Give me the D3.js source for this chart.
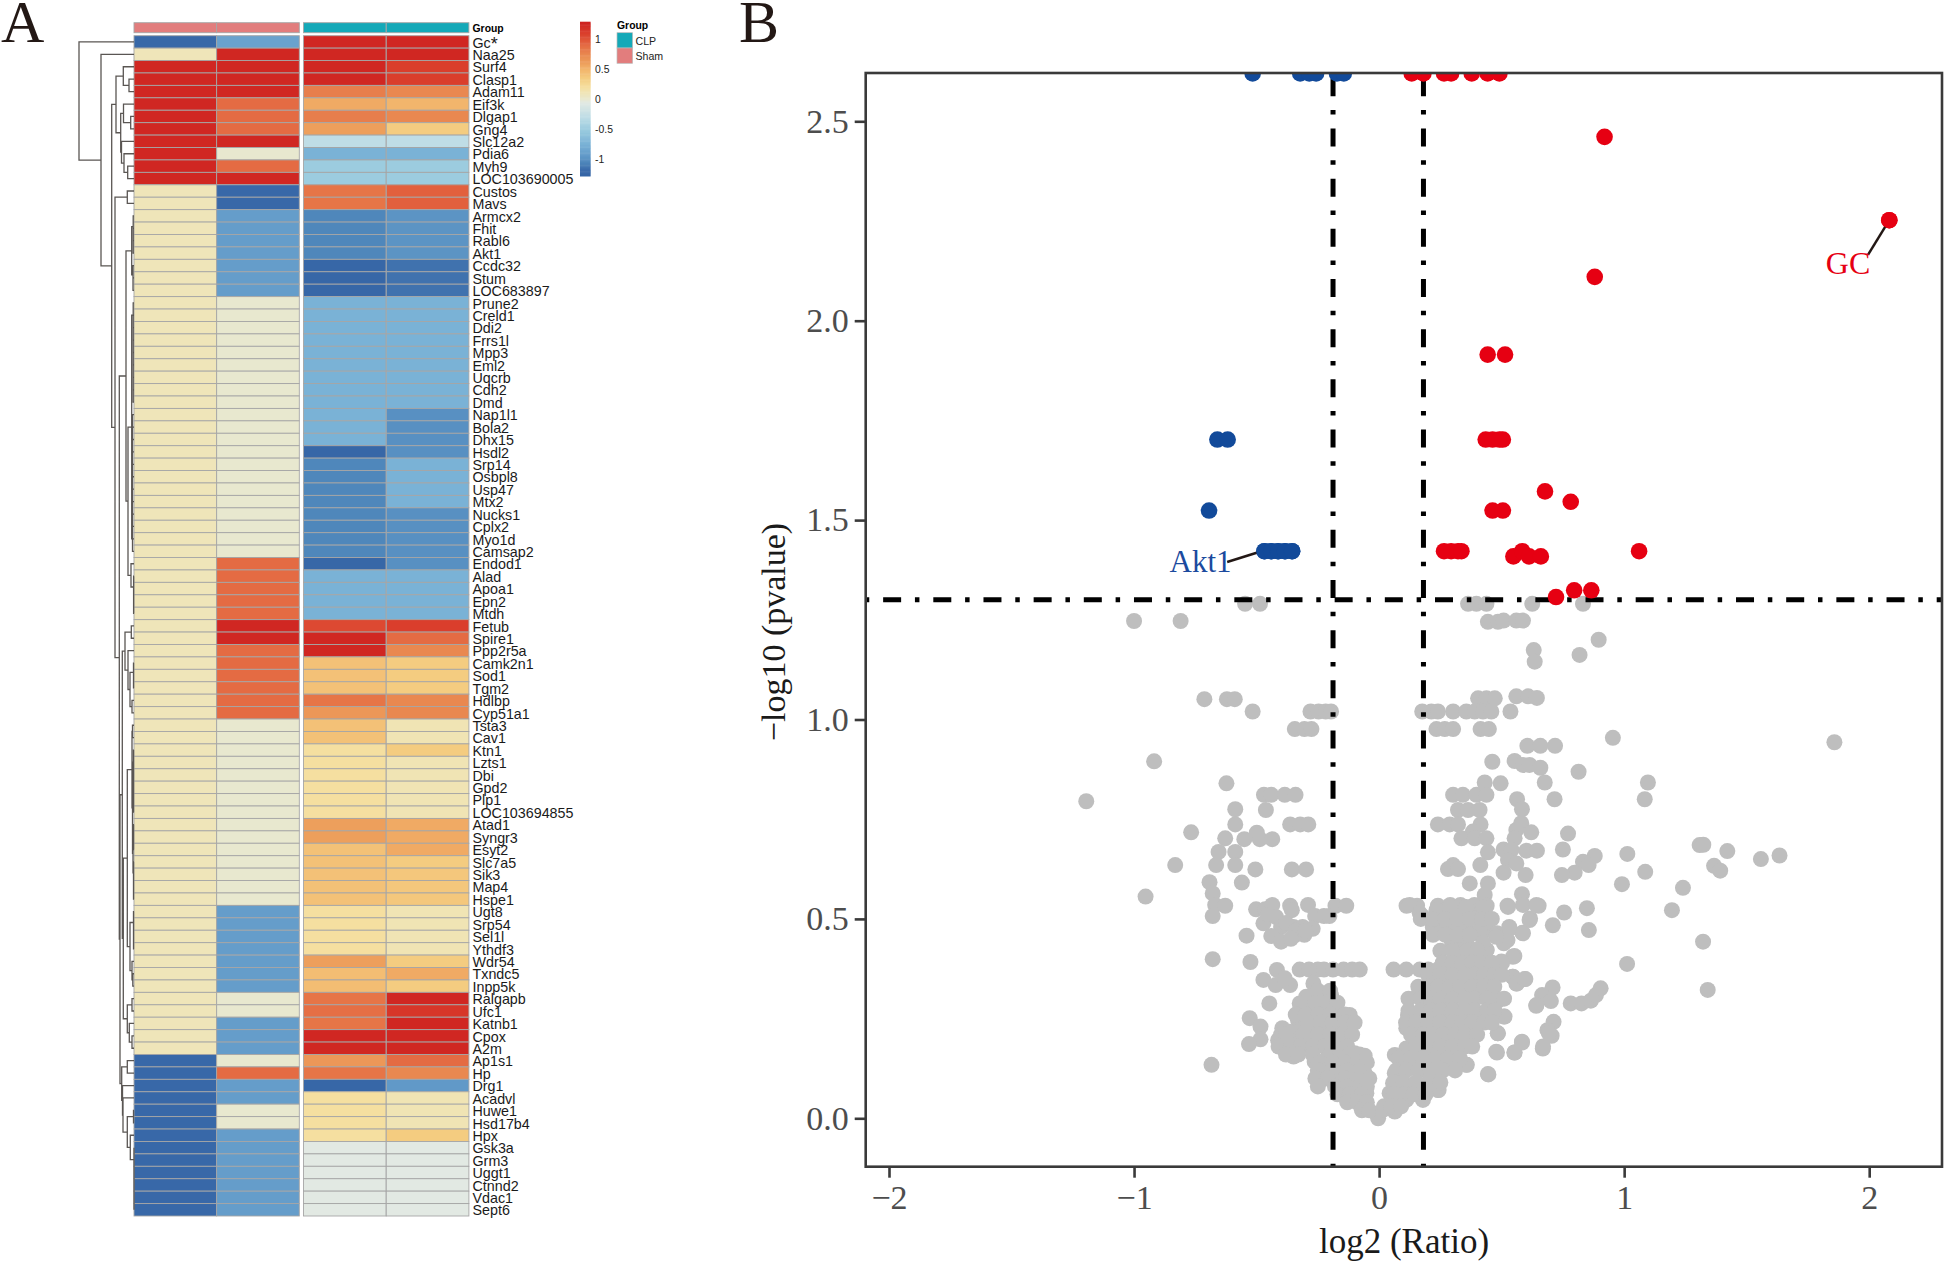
<!DOCTYPE html>
<html><head><meta charset="utf-8">
<script src="https://cdn.jsdelivr.net/npm/d3@7/dist/d3.min.js"></script>
<style>html,body{margin:0;padding:0;background:#fff}svg{display:block}</style>
</head><body><svg id="c" width="1944" height="1263"></svg>
<script>
// ---------- Heatmap data ----------
const genes = ["Gc","Naa25","Surf4","Clasp1","Adam11","Eif3k","Dlgap1","Gng4","Slc12a2","Pdia6","Myh9","LOC103690005","Custos","Mavs","Armcx2","Fhit","Rabl6","Akt1","Ccdc32","Stum","LOC683897","Prune2","Creld1","Ddi2","Frrs1l","Mpp3","Eml2","Uqcrb","Cdh2","Dmd","Nap1l1","Bola2","Dhx15","Hsdl2","Srp14","Osbpl8","Usp47","Mtx2","Nucks1","Cplx2","Myo1d","Camsap2","Endod1","Alad","Apoa1","Epn2","Mtdh","Fetub","Spire1","Ppp2r5a","Camk2n1","Sod1","Tgm2","Hdlbp","Cyp51a1","Tsta3","Cav1","Ktn1","Lzts1","Dbi","Gpd2","Plp1","LOC103694855","Atad1","Syngr3","Esyt2","Slc7a5","Sik3","Map4","Hspe1","Ugt8","Srp54","Sel1l","Ythdf3","Wdr54","Txndc5","Inpp5k","Ralgapb","Ufc1","Katnb1","Cpox","A2m","Ap1s1","Hp","Drg1","Acadvl","Huwe1","Hsd17b4","Hpx","Gsk3a","Grm3","Uggt1","Ctnnd2","Vdac1","Sept6"];
const sham1 = [-1.2,.1,1.25,1.25,1.25,1.25,1.25,1.25,1.25,1.25,1.25,1.25,.1,.1,.1,.1,.1,.1,.1,.1,.1,.1,.1,.1,.1,.1,.1,.1,.1,.1,.1,.1,.1,.1,.1,.1,.1,.1,.1,.1,.1,.1,.1,.1,.1,.1,.1,.1,.1,.1,.1,.1,.1,.1,.1,.1,.1,.1,.1,.1,.1,.1,.1,.1,.1,.1,.1,.1,.1,.1,.1,.1,.1,.1,.1,.1,.1,.1,.1,.1,.1,.1,-1.2,-1.2,-1.2,-1.2,-1.2,-1.2,-1.2,-1.2,-1.2,-1.2,-1.2,-1.2,-1.2];
const sham2 = [-.88,1.25,1.25,1.25,1.25,.9,.9,.9,1.25,0,.9,1.25,-1.2,-1.2,-.92,-.92,-.92,-.92,-.92,-.92,-.92,0,0,0,0,0,0,0,0,0,0,0,0,0,0,0,0,0,0,0,0,0,.9,.9,.9,.9,.9,1.25,1.25,.9,.9,.9,.9,.9,.9,0,0,0,0,0,0,0,0,0,0,0,0,0,0,0,-.92,-.92,-.92,-.92,-.92,-.92,-.92,0,0,-.92,-.92,-.92,0,.9,-.92,-.92,0,0,-.92,-.92,-.92,-.92,-.92,-.92,-.92];
const clp1 = [1.25,1.25,1.25,1.25,.8,.55,.8,.6,-.3,-.75,-.5,-.5,.85,.85,-1.05,-1.05,-1.05,-1.05,-1.22,-1.22,-1.22,-.75,-.75,-.75,-.75,-.75,-.75,-.75,-.75,-.75,-.75,-.75,-.75,-1.22,-1.05,-1.05,-1.05,-1.05,-1.05,-1.05,-1.05,-1.05,-1.22,-.75,-.75,-.75,-.75,1.05,1.25,1.25,.42,.42,.42,.85,.65,.42,.42,.2,.2,.2,.2,.2,.2,.6,.6,.42,.42,.42,.42,.42,.2,.2,.2,.2,.6,.45,.45,.85,.88,.85,1.25,1.25,.65,.85,-1.22,.2,.2,.2,.2,-.05,-.05,-.05,-.05,-.05,-.05];
const clp2 = [1.25,1.25,1.1,1.1,.75,.5,.75,.35,-.3,-.75,-.5,-.5,.95,.95,-.98,-.98,-.98,-.98,-1.15,-1.15,-1.15,-.75,-.75,-.75,-.75,-.75,-.75,-.75,-.75,-.75,-1,-1,-1,-1,-.75,-.75,-.75,-.75,-1,-1,-1,-1,-1,-.75,-.75,-.75,-.75,1.1,.9,.75,.35,.35,.35,.75,.75,.12,.12,.35,.12,.12,.12,.12,.12,.55,.55,.55,.35,.38,.38,.38,.12,.12,.12,.12,.35,.55,.35,1.25,1.15,1.25,1.25,1.25,.9,.75,-.95,.12,.12,.12,.35,-.05,-.05,-.05,-.05,-.05,-.05];
const sampleCols = ["Sham1","Sham2","CLP1","CLP2"];
const colorDomain = [-1.3,-1.2,-1.05,-.95,-.75,-.5,-.3,-.05,0,.1,.2,.35,.5,.6,.75,.9,1.1,1.3];
const colorRange = ["#3565a5","#3868a8","#4f87bb","#6199c8","#7ab2d6","#9cccdf","#bfdde6","#e2e9e3","#e8e8cf","#efe5b9","#f5dfa0","#f4cc80","#f2b56c","#ed9f5c","#e98850","#e46b43","#da3e2c","#cc1f1f"];
const legendTicks = [1,.5,0,-.5,-1];
const groupNames = ["CLP","Sham"];
const groupColors = ["#14a9b8","#e27d7d"];

// dendrogram: [merge height, child, child]; 0 = single gene; run(n,h) = tied genes
const run = (n,h) => n===1 ? 0 : [h,0,run(n-1,h)];
const runL = (n,h) => n===1 ? 0 : [h,runL(n-1,h),0];
const rowTree = [55,0,[33,0,[22.3,
  [18,[10.7,0,[5,0,0]],[13.3,[10.5,0,[3.3,0,0]],[12.5,0,[10,0,[6.3,0,0]]]]],
  [19,[6.7,0,0],[14.7,
    [8,[2.3,run(4,.8),run(3,1)],
       [6,[2.3,run(9,.8),runL(12,1.5)],[3,0,run(4,.4)]]],
    [14,
      [11.7,
        [9,[2.7,0,0],[6,0,[4,run(3,.5),[2,0,0]]]],
        [10.7,
          [6.7,[2,[1.5,0,0],[1.5,run(6,.5),[1,run(3,.5),run(4,.5)]]],[4,run(4,.5),[2,0,[1.2,0,0]]]],
          [6.7,[2,0,0],[4.7,0,[2,0,0]]]]],
      [12.3,[6.7,0,0],[11.5,0,[11,0,[6.7,[.5,0,0],[3.7,0,run(6,0)]]]]]]]]]]];

// ---------- Volcano data: [log2 ratio, -log10 p] ----------
const vLines = [-.188,.181], hLine = 1.3;
const xTicks = [-2,-1,0,1,2], yTicks = [0,.5,1,1.5,2,2.5];
const upPoints = [[.133,2.62],[.181,2.62],[.265,2.62],[.294,2.62],[.378,2.62],[.443,2.62],[.491,2.62],[.92,2.461],[2.082,2.252],[.88,2.11],[.443,1.915],[.514,1.915],[.435,1.702],[.463,1.702],[.491,1.702],[.505,1.702],[.677,1.572],[.782,1.546],[.463,1.524],[.505,1.524],[.265,1.422],[.294,1.422],[.322,1.422],[.336,1.422],[.548,1.409],[.584,1.422],[.612,1.409],[.66,1.409],[1.061,1.422],[.722,1.307],[.796,1.324],[.866,1.324]];
const downPoints = [[-.516,2.62],[-.322,2.62],[-.285,2.62],[-.257,2.62],[-.172,2.62],[-.144,2.62],[-.66,1.702],[-.618,1.702],[-.694,1.524],[-.468,1.422],[-.44,1.422],[-.412,1.422],[-.384,1.422],[-.355,1.422]];
const greyLeft = [[-.547,1.29],[-.486,1.29],[-1,1.247],[-.81,1.247],[-.713,1.051],[-.621,1.051],[-.589,1.051],[-.516,1.02],[-.28,1.02],[-.247,1.02],[-.218,1.02],[-.196,1.02],[-.344,.976],[-.305,.976],[-.276,.976],[-.918,.895],[-1.195,.795],[-.623,.84],[-.47,.811],[-.44,.811],[-.385,.811],[-.341,.811],[-.462,.773],[-.587,.775],[-.587,.737],[-.363,.737],[-.322,.737],[-.289,.737],[-.767,.717],[-.628,.702],[-.55,.7],[-.499,.716],[-.487,.7],[-.436,.7],[-.655,.668],[-.587,.668],[-.832,.635],[-.665,.635],[-.587,.635],[-.505,.624],[-.356,.624],[-.298,.624],[-.692,.592],[-.56,.591],[-.679,.564],[-.953,.556],[-.669,.535],[-.628,.533],[-.679,.507],[-.502,.524],[-.465,.524],[-.436,.535],[-.363,.533],[-.356,.522],[-.29,.535],[-.178,.533],[-.134,.533],[-.261,.507],[-.225,.507],[-.203,.507],[-.472,.489],[-.451,.51],[-.421,.505],[-.4,.48],[-.349,.48],[-.312,.48],[-.271,.475],[-.44,.457],[-.4,.443],[-.341,.46],[-.305,.46],[-.541,.458],[-.679,.399],[-.525,.392],[-.324,.373],[-.286,.373],[-.25,.373],[-.225,.373],[-.188,.373],[-.145,.373],[-.11,.373],[-.079,.373],[-.417,.372],[-.472,.347],[-.422,.334],[-.363,.334],[-.385,.351],[-.268,.338],[-.448,.288],[-.196,.309],[-.324,.288],[-.297,.305],[-.242,.309],[-.202,.309],[-.283,.28],[-.229,.28],[-.331,.246],[-.276,.255],[-.222,.255],[-.168,.259],[-.12,.259],[-.331,.217],[-.27,.226],[-.215,.226],[-.168,.23],[-.12,.23],[-.395,.226],[-.365,.217],[-.412,.196],[-.351,.196],[-.29,.196],[-.236,.192],[-.351,.159],[-.528,.251],[-.484,.23],[-.484,.198],[-.531,.186],[-.4,.21],[-.349,.155],[-.397,.178],[-.684,.134],[-.263,.142],[-.208,.155],[-.147,.175],[-.1,.163],[-.059,.157],[-.236,.096],[-.215,.121],[-.161,.138],[-.106,.138],[-.059,.113],[-.161,.104],[-.106,.104],[-.059,.088],[-.147,.071],[-.106,.054],[-.052,.063],[-.059,.025],[-.079,.038],[-.004,0]];
const greyLeftDense = [[-.25,.32],[-.2,.32],[-.31,.29],[-.26,.29],[-.21,.29],[-.17,.29],[-.34,.26],[-.3,.26],[-.25,.26],[-.2,.26],[-.14,.26],[-.29,.24],[-.24,.24],[-.19,.24],[-.14,.24],[-.1,.24],[-.38,.21],[-.31,.21],[-.25,.21],[-.2,.21],[-.15,.21],[-.11,.21],[-.41,.18],[-.36,.18],[-.32,.18],[-.27,.18],[-.22,.18],[-.17,.18],[-.13,.18],[-.38,.16],[-.33,.16],[-.27,.16],[-.2,.16],[-.16,.16],[-.12,.16],[-.08,.16],[-.24,.14],[-.19,.14],[-.14,.14],[-.09,.14],[-.05,.14],[-.25,.12],[-.19,.12],[-.13,.12],[-.08,.12],[-.26,.1],[-.21,.1],[-.14,.1],[-.08,.1],[-.04,.1],[-.25,.08],[-.18,.08],[-.13,.08],[-.08,.08],[-.05,.08],[-.17,.06],[-.12,.06],[-.07,.06],[-.13,.04],[-.09,.04],[-.05,.04],[-.07,.02],[-.04,.02],[-.38,.49],[-.34,.47],[-.3,.47],[-.36,.45]];
const greyRight = [[.363,1.29],[.397,1.29],[.438,1.29],[.625,1.29],[.832,1.29],[.444,1.245],[.485,1.245],[.508,1.248],[.56,1.248],[.587,1.248],[.896,1.2],[.818,1.162],[.631,1.174],[.635,1.145],[.404,1.053],[.438,1.053],[.472,1.053],[.56,1.058],[.608,1.058],[.644,1.054],[.176,1.02],[.213,1.02],[.24,1.02],[.302,1.02],[.356,1.02],[.39,1.02],[.424,1.02],[.458,1.02],[.536,1.02],[.234,.976],[.268,.976],[.302,.976],[.414,.976],[.448,.976],[.954,.954],[1.858,.943],[.605,.934],[.658,.934],[.718,.934],[.462,.894],[.553,.896],[.587,.886],[.614,.886],[.658,.879],[.814,.869],[.676,.842],[.431,.842],[.496,.84],[1.097,.842],[1.084,.8],[.716,.8],[.302,.811],[.342,.811],[.397,.811],[.438,.811],[.322,.773],[.363,.773],[.41,.773],[.563,.8],[.583,.775],[.24,.737],[.288,.737],[.322,.737],[.414,.737],[.58,.74],[.56,.723],[.621,.717],[.771,.714],[.383,.719],[.336,.702],[.39,.702],[.438,.702],[.553,.702],[.508,.674],[.444,.667],[.601,.671],[.644,.671],[.75,.674],[.54,.673],[.526,.648],[.56,.639],[.88,.658],[.832,.643],[.855,.635],[1.013,.663],[.798,.616],[.746,.61],[1.086,.618],[1.308,.685],[.302,.635],[.281,.625],[.322,.625],[.413,.635],[.508,.616],[.598,.61],[.991,.587],[1.24,.578],[.37,.589],[.444,.589],[.431,.56],[.583,.562],[1.323,.686],[1.421,.67],[1.558,.65],[1.634,.659],[1.367,.633],[1.392,.621],[1.195,.522],[.848,.527],[.755,.516],[.709,.484],[.856,.472],[1.322,.443],[1.012,.387],[1.341,.322],[.651,.533],[.587,.535],[.524,.533],[.616,.501],[.585,.465],[.531,.48],[.524,.447],[.552,.407],[.502,.39],[.46,.372],[.439,.422],[.545,.355],[.562,.338],[.597,.349],[.708,.328],[.665,.309],[.701,.294],[.641,.282],[.782,.288],[.826,.288],[.864,.295],[.885,.309],[.904,.326],[.712,.242],[.687,.221],[.704,.207],[.668,.175],[.583,.192],[.552,.165],[.481,.165],[.484,.213],[.446,.11],[.358,.134],[.243,.071],[.509,.255],[.481,.293],[.375,.213],[.332,.175],[.311,.146],[.112,.533],[.155,.533],[.176,.507],[.219,.48],[.24,.533],[.29,.535],[.332,.535],[.389,.535],[.439,.533],[.226,.505],[.268,.505],[.318,.514],[.368,.514],[.417,.514],[.254,.48],[.297,.464],[.339,.464],[.382,.464],[.439,.472],[.297,.443],[.353,.435],[.389,.422],[.481,.464],[.509,.439],[.311,.397],[.353,.405],[.389,.376],[.424,.363],[.059,.373],[.111,.373],[.166,.373],[.2,.373],[.24,.373],[.28,.373],[.064,.159],[.111,.175],[.172,.18],[.064,.113],[.057,.088],[.043,.063],[.07,.046],[.064,.017],[.016,.021],[.111,.079],[.111,.046],[.166,.063],[.24,.071],[.179,.046],[.104,.121],[.166,.121],[.227,.104],[.206,.146],[.261,.18],[.315,.175],[.356,.134],[.444,.111],[.247,.134],[.302,.146],[.118,.259],[.111,.226],[.159,.309],[.172,.259],[.166,.226],[.227,.255],[.227,.221],[.288,.255],[.288,.213],[.308,.389],[.356,.397],[.206,.347],[.274,.347],[.342,.347],[.41,.347],[.465,.33],[.206,.305],[.274,.305],[.342,.305],[.41,.305],[.485,.297],[.274,.272],[.342,.272],[.41,.263],[.512,.255],[.342,.238],[.397,.238],[.37,.209],[.315,.196],[.438,.422],[.546,.405],[.546,.355],[.56,.338],[.594,.349],[.642,.284],[.485,.213],[.478,.167],[.553,.165],[.583,.19],[.669,.18],[.693,.213],[.125,.535],[.166,.514],[.234,.522],[.288,.53],[.356,.53],[.424,.53],[.526,.53],[.642,.535],[.614,.497],[.533,.476],[.587,.464],[.288,.489],[.342,.481],[.41,.472],[.478,.455],[.288,.455],[.356,.443],[.424,.439],[.499,.393],[.22,.497],[.342,.422]];
const greyRightDense = [[.17,.5],[.22,.5],[.27,.5],[.32,.5],[.37,.5],[.42,.5],[.46,.5],[.22,.46],[.27,.46],[.32,.46],[.37,.46],[.25,.42],[.3,.42],[.36,.42],[.4,.42],[.26,.39],[.3,.39],[.34,.39],[.38,.39],[.42,.39],[.46,.39],[.2,.36],[.25,.36],[.3,.36],[.35,.36],[.39,.36],[.43,.36],[.47,.36],[.5,.36],[.16,.33],[.2,.33],[.24,.33],[.29,.33],[.33,.33],[.38,.33],[.43,.33],[.47,.33],[.12,.3],[.17,.3],[.21,.3],[.25,.3],[.3,.3],[.35,.3],[.39,.3],[.44,.3],[.48,.3],[.51,.3],[.12,.27],[.17,.27],[.21,.27],[.25,.27],[.3,.27],[.35,.27],[.39,.27],[.44,.27],[.47,.27],[.11,.24],[.15,.24],[.2,.24],[.25,.24],[.3,.24],[.34,.24],[.38,.24],[.43,.24],[.46,.24],[.13,.21],[.18,.21],[.22,.21],[.26,.21],[.31,.21],[.35,.21],[.4,.21],[.15,.18],[.2,.18],[.25,.18],[.3,.18],[.35,.18],[.38,.18],[.08,.15],[.13,.15],[.18,.15],[.23,.15],[.28,.15],[.33,.15],[.07,.12],[.11,.12],[.16,.12],[.21,.12],[.26,.12],[.31,.12],[.06,.09],[.1,.09],[.15,.09],[.2,.09],[.25,.09],[.06,.06],[.1,.06],[.14,.06],[.19,.06],[.02,.03],[.05,.03],[.09,.03]];
const gcLabel = {name:"GC",point:[2.082,2.252],end:[1.995,2.165],at:[1.823,2.118]};
const aktLabel = {name:"Akt1",point:[-.48,1.422],end:[-.62,1.395],at:[-.855,1.37]};

// ---------- Drawing ----------
const svg = d3.select("#c");
const SERIF = "'Liberation Serif',serif", SANS = "'Liberation Sans',Arial,sans-serif";
const color = d3.scaleLinear().domain(colorDomain).range(colorRange).clamp(true);

// panel letters
svg.selectAll("text.panel").data([["A",1],["B",739]]).join("text").attr("class","panel")
  .attr("x",d=>d[1]).attr("y",42).attr("font-family",SERIF).attr("font-size",60).attr("fill","#231815").text(d=>d[0]);

// heatmap
const hm = svg.append("g");
const rowY = d3.scaleBand().domain(genes).range([35.7,1216]);
const colX = {Sham1:0,Sham2:1,CLP1:2,CLP2:3};
const shamX = d3.scaleBand().domain(sampleCols.slice(0,2)).range([134,299.3]);
const clpX = d3.scaleBand().domain(sampleCols.slice(2)).range([303.5,469]);
const cx = c => colX[c]<2 ? shamX(c) : clpX(c);
const cols = [sham1,sham2,clp1,clp2];
const CELL = "#a6a6a6";
sampleCols.forEach((c,j)=>{
  hm.append("g").selectAll("rect").data(genes).join("rect")
    .attr("x",cx(c)).attr("y",g=>rowY(g)).attr("width",shamX.bandwidth()).attr("height",rowY.bandwidth())
    .attr("fill",(g,i)=>color(cols[j][i])).attr("stroke",CELL).attr("stroke-width",.9);
  hm.append("rect").attr("x",cx(c)).attr("y",22.7).attr("width",shamX.bandwidth()).attr("height",10)
    .attr("fill",j<2?groupColors[1]:groupColors[0]).attr("stroke",CELL).attr("stroke-width",.9);
});
hm.append("text").attr("x",472.5).attr("y",31.5).attr("font-family",SANS).attr("font-weight","bold").attr("font-size",10.4).text("Group");
hm.append("g").selectAll("text").data(genes).join("text")
  .attr("x",472.5).attr("y",g=>rowY(g)+rowY.bandwidth()/2+5.7)
  .attr("font-family",SANS).attr("font-size",14.3).attr("fill","#1a1a1a")
  .each(function(g){ const t=d3.select(this); t.text(g);
    if(g==="Gc") t.append("tspan").attr("font-size",18).attr("dy",2).text("*"); });

// dendrogram
const toObj = n => n===0 ? {h:0} : {h:n[0],children:[toObj(n[1]),toObj(n[2])]};
const root = d3.hierarchy(toObj(rowTree));
const treeX = d3.scaleLinear().domain([0,55]).range([134,79]);
let leafI = 0;
root.eachAfter(n=>{
  if(!n.children){ const g=genes[leafI++]; n.yy=rowY(g)+rowY.bandwidth()/2; }
  else n.yy=(n.children[0].yy+n.children[1].yy)/2;
});
const dp = d3.path();
root.descendants().filter(n=>n.children).forEach(n=>{
  const x=treeX(n.data.h);
  const [a,b]=n.children;
  dp.moveTo(treeX(a.data.h),a.yy); dp.lineTo(x,a.yy); dp.lineTo(x,b.yy); dp.lineTo(treeX(b.data.h),b.yy);
});
hm.append("path").attr("d",dp.toString()).attr("fill","none").attr("stroke","#5a5653").attr("stroke-width",1.3);

// colour legend
const legY = d3.scaleLinear().domain([-1.28,1.3]).range([176,21.7]);
hm.append("g").selectAll("rect").data(d3.range(-1.28,1.3,.02)).join("rect")
  .attr("x",580).attr("width",10.6).attr("y",d=>legY(d+.02)).attr("height",d=>legY(d)-legY(d+.02)+.5).attr("fill",d=>color(d));
hm.append("g").selectAll("text").data(legendTicks).join("text")
  .attr("x",595).attr("y",d=>legY(d)+3.6).attr("font-family",SANS).attr("font-size",10.4).attr("fill","#222").text(d=>d);
hm.append("text").attr("x",617).attr("y",28.5).attr("font-family",SANS).attr("font-weight","bold").attr("font-size",10.4).text("Group");
hm.append("g").selectAll("rect").data(groupNames).join("rect")
  .attr("x",617).attr("y",(d,i)=>32.7+i*15.3).attr("width",15.6).attr("height",15.3)
  .attr("fill",(d,i)=>groupColors[i]).attr("stroke","#bbb").attr("stroke-width",.7);
hm.append("g").selectAll("text").data(groupNames).join("text")
  .attr("x",635.5).attr("y",(d,i)=>44.5+i*15.6).attr("font-family",SANS).attr("font-size",10.6).attr("fill","#222").text(d=>d);

// volcano
const L=865.7,R=1942,T=73,B=1166.7;
const xScale = d3.scaleLinear().domain([-2,2]).range([889,1869.2]);
const yScale = d3.scaleLinear().domain([0,2.5]).range([1118.3,121.3]);
svg.append("clipPath").attr("id","pc").append("rect").attr("x",L).attr("y",T).attr("width",R-L).attr("height",B-T);
const plot = svg.append("g").attr("clip-path","url(#pc)");
const RAD_GREY = 8, RAD = 8.3;
const dots = (arr,fill,r)=>plot.append("g").selectAll("circle").data(arr).join("circle")
  .attr("cx",d=>xScale(d[0])).attr("cy",d=>yScale(d[1])).attr("r",r).attr("fill",fill);
dots(greyLeft.concat(greyLeftDense,greyRight,greyRightDense),"#bebebe",RAD_GREY);
const DASH="18,13.8,4.5,13.87";
plot.selectAll("line.v").data(vLines).join("line").attr("class","v")
  .attr("x1",d=>xScale(d)).attr("x2",d=>xScale(d)).attr("y1",T).attr("y2",B)
  .attr("stroke","#000").attr("stroke-width",5).attr("stroke-dasharray",DASH).attr("stroke-dashoffset",44.87);
plot.append("line").attr("x1",L).attr("x2",R).attr("y1",yScale(hLine)).attr("y2",yScale(hLine))
  .attr("stroke","#000").attr("stroke-width",5).attr("stroke-dasharray",DASH).attr("stroke-dashoffset",32.74);
dots(upPoints,"#e60012",RAD);
dots(downPoints,"#124a9a",RAD);

[gcLabel,aktLabel].forEach((l,i)=>{
  svg.append("line").attr("x1",xScale(l.point[0])).attr("y1",yScale(l.point[1])).attr("x2",xScale(l.end[0])).attr("y2",yScale(l.end[1]))
    .attr("stroke","#231815").attr("stroke-width",2.5);
  svg.append("text").attr("x",xScale(l.at[0])).attr("y",yScale(l.at[1])).attr("font-family",SERIF)
    .attr("font-size",i?31:32).attr("fill",i?"#1b4a9e":"#e60012").text(l.name);
});
// redraw the marked points above the leader lines
svg.append("circle").attr("cx",xScale(gcLabel.point[0])).attr("cy",yScale(gcLabel.point[1])).attr("r",RAD).attr("fill","#e60012");
svg.append("g").selectAll("circle").data(downPoints.slice(-5)).join("circle")
  .attr("cx",d=>xScale(d[0])).attr("cy",d=>yScale(d[1])).attr("r",RAD).attr("fill","#124a9a");

svg.append("rect").attr("x",L).attr("y",T).attr("width",R-L).attr("height",B-T).attr("fill","none").attr("stroke","#3a3a3a").attr("stroke-width",2.6);

const fmtMinus = d => d<0 ? "\u2212"+Math.abs(d) : ""+d;
const ax = svg.append("g").attr("transform",`translate(0,${B})`)
  .call(d3.axisBottom(xScale).tickValues(xTicks).tickSize(11).tickSizeOuter(0).tickPadding(7).tickFormat(fmtMinus));
const ay = svg.append("g").attr("transform",`translate(${L},0)`)
  .call(d3.axisLeft(yScale).tickValues(yTicks).tickSize(11).tickSizeOuter(0).tickPadding(6).tickFormat(d3.format(".1f")));
[ax,ay].forEach(a=>{
  a.select(".domain").remove();
  a.selectAll("line").attr("stroke","#3a3a3a").attr("stroke-width",2.6);
  a.selectAll("text").attr("font-family",SERIF).attr("font-size",34).attr("fill","#4d4d4d");
});
svg.append("text").attr("x",1404).attr("y",1253).attr("text-anchor","middle").attr("font-family",SERIF).attr("font-size",35).attr("fill","#1a1a1a").text("log2 (Ratio)");
svg.append("text").attr("transform","translate(785,632) rotate(-90)").attr("text-anchor","middle").attr("font-family",SERIF).attr("font-size",34).attr("fill","#1a1a1a").text("\u2212log10 (pvalue)");
</script></body></html>
